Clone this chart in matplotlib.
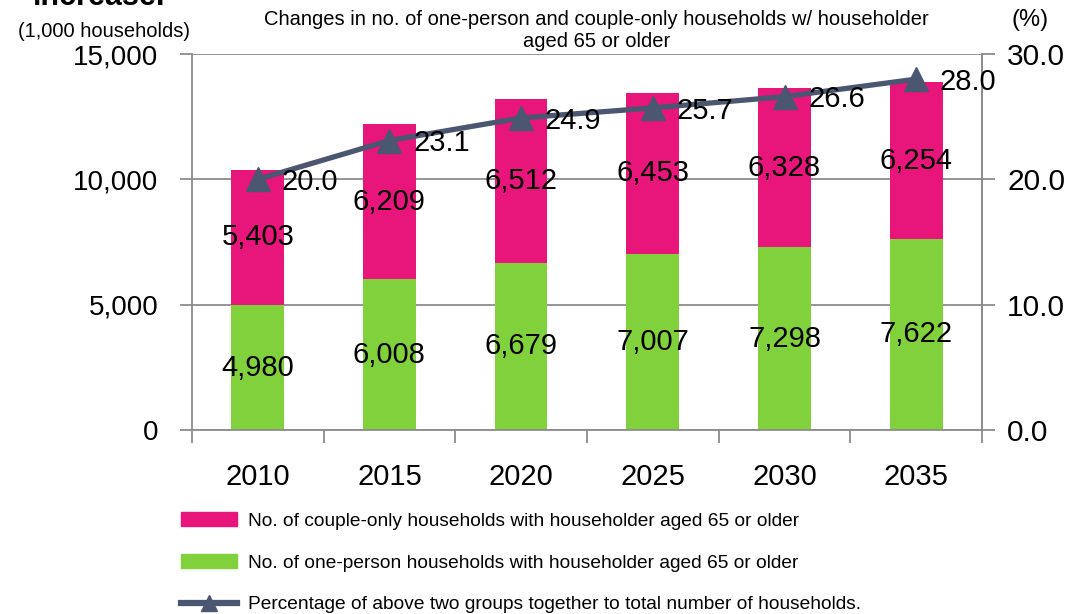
import matplotlib.pyplot as plt
import numpy as np
from matplotlib.patches import Patch
from matplotlib.lines import Line2D

plt.rcParams['font.family'] = ['Liberation Sans', 'DejaVu Sans']

years = ['2010', '2015', '2020', '2025', '2030', '2035']
one_person = [4980, 6008, 6679, 7007, 7298, 7622]
couple_only = [5403, 6209, 6512, 6453, 6328, 6254]
pct = [20.0, 23.1, 24.9, 25.7, 26.6, 28.0]

pink = '#E8157A'
green = '#80D13B'
navy = '#4B5670'
grey = '#8C8C8C'

fig = plt.figure(figsize=(10.84, 6.14), dpi=100)
ax = fig.add_axes([0.177, 0.2997, 0.729, 0.6123])
x = np.arange(len(years))

ax.set_axisbelow(True)
ax.yaxis.grid(True, color=grey, linewidth=1.3)
ax.bar(x, one_person, width=0.4, color=green, zorder=2)
ax.bar(x, couple_only, width=0.4, bottom=one_person, color=pink, zorder=2)

for i in range(len(years)):
    ax.text(x[i], one_person[i] / 2, f'{one_person[i]:,}', ha='center', va='center', fontsize=21, zorder=5)
    ax.text(x[i], one_person[i] + couple_only[i] / 2, f'{couple_only[i]:,}', ha='center', va='center', fontsize=21, zorder=5)

ax.set_xlim(-0.5, 5.5)
ax.set_ylim(0, 15000)
ax.set_yticks([0, 5000, 10000, 15000])
ax.set_yticklabels(['0', '5,000', '10,000', '15,000'])
ax.set_xticks(x)
ax.set_xticklabels(years)
ax.set_xticks(np.arange(-0.5, 6, 1), minor=True)
ax.tick_params(axis='x', which='major', length=0, pad=24, labelsize=21)
ax.tick_params(axis='x', which='minor', length=9, width=1.3, color=grey, direction='out')
ax.tick_params(axis='y', length=9, width=1.3, color=grey, pad=15, labelsize=20)
for s in ['left', 'bottom', 'right']:
    ax.spines[s].set_color(grey)
    ax.spines[s].set_linewidth(1.3)
ax.spines['top'].set_visible(False)

ax2 = ax.twinx()
ax2.set_ylim(0, 30)
ax2.set_yticks([0, 10, 20, 30])
ax2.set_yticklabels(['0.0', '10.0', '20.0', '30.0'])
ax2.tick_params(axis='y', length=9, width=1.3, color=grey, pad=9, labelsize=21.5)
for s in ['left', 'bottom', 'top']:
    ax2.spines[s].set_visible(False)
ax2.spines['right'].set_color(grey)
ax2.spines['right'].set_linewidth(1.3)
ax2.plot(x, pct, color=navy, linewidth=3.8, marker='^', markersize=17, zorder=4)
for i in range(len(years)):
    ax2.annotate(f'{pct[i]:.1f}', (x[i], pct[i]), xytext=(17, -2), textcoords='offset points',
                 ha='left', va='center', fontsize=21, zorder=6)

fig.text(0.030, 0.992, 'increase.', fontsize=22, fontweight='bold', va='baseline')
fig.text(0.096, 0.949, '(1,000 households)', fontsize=14.5, ha='center', va='center')
fig.text(0.950, 0.968, '(%)', fontsize=17, ha='center', va='center')
fig.text(0.550, 0.950, 'Changes in no. of one-person and couple-only households w/ householder\naged 65 or older',
         fontsize=14.5, ha='center', va='center', linespacing=1.2)

handles = [Patch(color=pink), Patch(color=green),
           Line2D([], [], color=navy, linewidth=4.5, marker='^', markersize=11)]
labels = ['No. of couple-only households with householder aged 65 or older',
          'No. of one-person households with householder aged 65 or older',
          'Percentage of above two groups together to total number of households.']
fig.legend(handles, labels, loc='upper left', bbox_to_anchor=(0.160, 0.178), frameon=False,
           fontsize=13.8, handlelength=2.9, handletextpad=0.6, labelspacing=1.27, borderaxespad=0)

fig.savefig('out.png', dpi=100)
